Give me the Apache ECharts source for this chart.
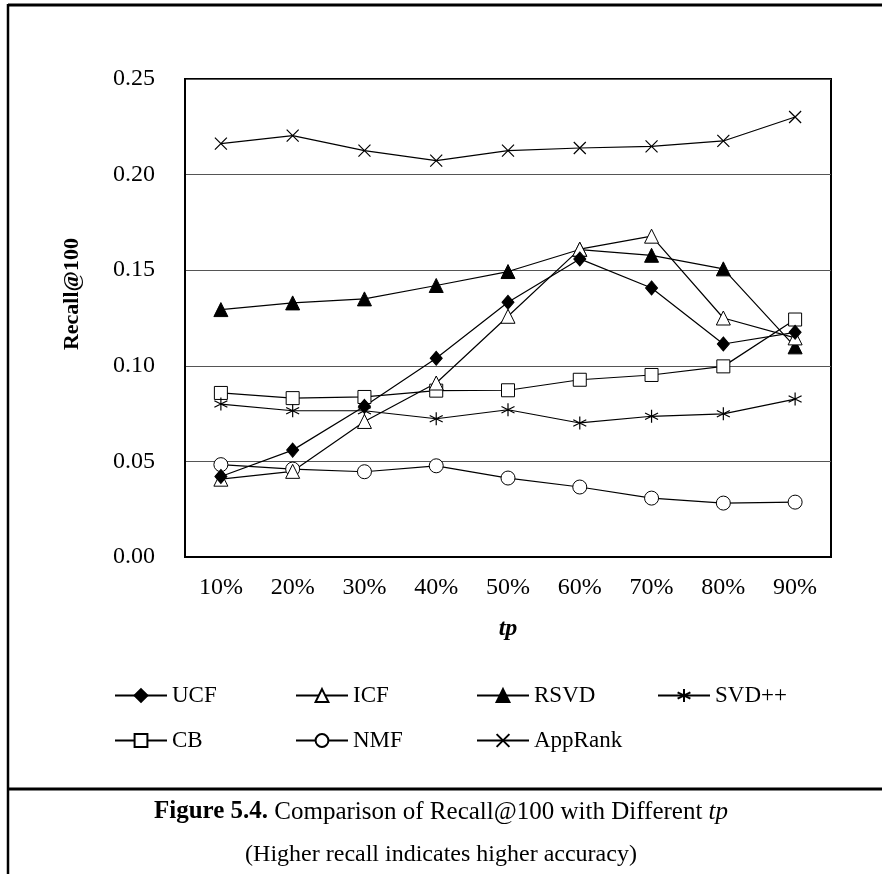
<!DOCTYPE html>
<html>
<head>
<meta charset="utf-8">
<script src="https://cdn.jsdelivr.net/npm/echarts@6/dist/echarts.min.js"></script>
<style>
  html, body { margin: 0; padding: 0; background: #fff; }
</style>
</head>
<body>
<div id="main" style="width: 882px;height: 874px"></div>

<script type="text/javascript">
    // categories and values
    var categories = ['10%', '20%', '30%', '40%', '50%', '60%', '70%', '80%', '90%'];
    var yTicks = [0, 0.05, 0.10, 0.15, 0.20, 0.25];

    var ucf     = [0.0421, 0.0559, 0.0788, 0.1039, 0.1332, 0.1559, 0.1407, 0.1114, 0.1175];
    var icf     = [0.0407, 0.0448, 0.0709, 0.0910, 0.1259, 0.1610, 0.1678, 0.1250, 0.1146];
    var rsvd    = [0.1294, 0.1329, 0.1350, 0.1420, 0.1493, 0.1608, 0.1578, 0.1507, 0.1099];
    var svdpp   = [0.0800, 0.0765, 0.0765, 0.0723, 0.0770, 0.0701, 0.0736, 0.0749, 0.0826];
    var cb      = [0.0858, 0.0831, 0.0837, 0.0870, 0.0872, 0.0927, 0.0952, 0.0997, 0.1242];
    var nmf     = [0.0483, 0.0460, 0.0446, 0.0477, 0.0413, 0.0366, 0.0308, 0.0282, 0.0287];
    var appRank = [0.2162, 0.2204, 0.2125, 0.2073, 0.2125, 0.2139, 0.2148, 0.2176, 0.2301];

    var FONT = 'Liberation Serif, Times New Roman, serif';
    var starPath = 'path://M5,0L5,10M0.67,2.5L9.33,7.5M0.67,7.5L9.33,2.5';
    var crossPath = 'path://M0,0L10,10M10,0L0,10';

    var filled = { color: '#000', borderColor: '#000', borderWidth: 1 };
    var hollow = { color: '#fff', borderColor: '#000', borderWidth: 1 };
    var strokeOnly = { color: 'rgba(0,0,0,0)', borderColor: '#000', borderWidth: 1.2 };

    function makeSeries(name, data, symbol, size, itemStyle) {
        return {
            name: name,
            type: 'line',
            data: data,
            symbol: symbol,
            symbolSize: size,
            showAllSymbol: true,
            lineStyle: { color: '#000', width: 1.2 },
            itemStyle: itemStyle,
            emphasis: { disabled: true },
            animation: false
        };
    }

    var myChart = echarts.init(document.getElementById('main'));

    var option = {
        backgroundColor: '#fff',
        animation: false,
        grid: {
            left: 185, right: 51, top: 79, bottom: 317,
            show: true, borderColor: '#000', borderWidth: 2
        },
        legend: {
            left: 109, top: 679, width: 720,
            itemWidth: 52, itemHeight: 16, itemGap: 22,
            textStyle: { fontFamily: FONT, fontSize: 23, color: '#000', width: 101, lineHeight: 22 },
            data: ['UCF', 'ICF', 'RSVD', 'SVD++', 'CB', 'NMF', 'AppRank']
        },
        xAxis: {
            type: 'category',
            data: categories,
            boundaryGap: true,
            name: 'tp',
            nameLocation: 'middle',
            nameGap: 60,
            nameTextStyle: { fontFamily: FONT, fontSize: 24, fontWeight: 'bold', fontStyle: 'italic', color: '#000' },
            axisLine: { lineStyle: { color: '#000', width: 2 } },
            axisTick: { inside: true, length: 7, lineStyle: { color: '#000', width: 1 } },
            axisLabel: { fontFamily: FONT, fontSize: 24, color: '#000', margin: 19 }
        },
        yAxis: {
            type: 'value',
            min: yTicks[0],
            max: yTicks[yTicks.length - 1],
            interval: 0.05,
            name: 'Recall@100',
            nameLocation: 'middle',
            nameGap: 102,
            nameTextStyle: { fontFamily: FONT, fontSize: 22, fontWeight: 'bold', color: '#000', padding: [0, 0, 0, 48] },
            axisLine: { show: true, lineStyle: { color: '#000', width: 2 } },
            axisTick: { show: false },
            axisLabel: {
                fontFamily: FONT, fontSize: 24, color: '#000', margin: 30,
                formatter: function (v) { return v.toFixed(2); }
            },
            splitLine: { lineStyle: { color: '#555', width: 1 } }
        },
        series: [
            makeSeries('CB', cb, 'rect', 13, hollow),
            makeSeries('NMF', nmf, 'circle', 14, hollow),
            makeSeries('SVD++', svdpp, starPath, 13, strokeOnly),
            makeSeries('AppRank', appRank, crossPath, 12, strokeOnly),
            makeSeries('RSVD', rsvd, 'triangle', 14, filled),
            makeSeries('ICF', icf, 'triangle', 14, hollow),
            makeSeries('UCF', ucf, 'diamond', [12, 14], filled)
        ],
        graphic: [
            { type: 'line', shape: { x1: 8, y1: 5, x2: 882, y2: 5 }, style: { stroke: '#000', lineWidth: 3 }, silent: true },
            { type: 'line', shape: { x1: 8, y1: 4, x2: 8, y2: 874 }, style: { stroke: '#000', lineWidth: 2.5 }, silent: true },
            { type: 'line', shape: { x1: 8, y1: 789, x2: 882, y2: 789 }, style: { stroke: '#000', lineWidth: 3 }, silent: true },
            {
                type: 'text', x: 441, y: 812, silent: true,
                style: {
                    text: '{b|Figure 5.4.}{r| Comparison of Recall@100 with Different }{i|tp}',
                    align: 'center', verticalAlign: 'middle',
                    rich: {
                        b: { fontFamily: FONT, fontSize: 25, fontWeight: 'bold', fill: '#000' },
                        r: { fontFamily: FONT, fontSize: 25, fill: '#000' },
                        i: { fontFamily: FONT, fontSize: 25, fontStyle: 'italic', fill: '#000' }
                    }
                }
            },
            {
                type: 'text', x: 441, y: 855, silent: true,
                style: {
                    text: '(Higher recall indicates higher accuracy)',
                    align: 'center', verticalAlign: 'middle',
                    fontFamily: FONT, fontSize: 24, fill: '#000'
                }
            }
        ]
    };

    myChart.setOption(option);
</script>
</body>
</html>
